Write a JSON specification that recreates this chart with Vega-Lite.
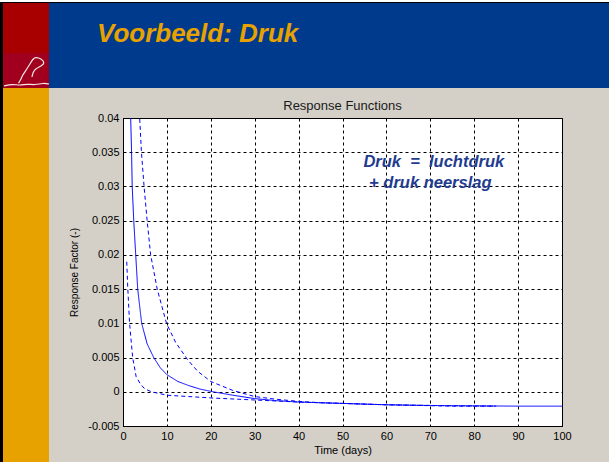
{
  "$schema": "https://vega.github.io/schema/vega-lite/v6.json",
  "width": 439,
  "height": 308,
  "autosize": {"type": "none"},
  "padding": {"left": 123, "top": 118, "right": 47, "bottom": 36},
  "background": "#D4D0C8",
  "config": {
    "view": {"fill": "white", "stroke": "black", "strokeWidth": 1},
    "font": "Liberation Sans",
    "axis": {
      "grid": true,
      "gridColor": "black",
      "gridOpacity": 1,
      "gridDash": [3, 3],
      "gridWidth": 1,
      "domainColor": "black",
      "ticks": false,
      "labelColor": "black",
      "labelFontSize": 11,
      "labelFont": "Liberation Sans",
      "titleFont": "Liberation Sans",
      "titleFontSize": 11,
      "titleFontWeight": "normal",
      "titleColor": "black",
      "labelFlush": false,
      "labelOverlap": false
    }
  },
  "datasets": {
    "slide": [
      {"part": "topwhite", "x0": -29, "x1": 112, "y0": 0.06, "y1": 0.05695},
      {"part": "border", "x0": -29, "x1": 112, "y0": 0.05695, "y1": 0.0568},
      {"part": "border", "x0": -29, "x1": -27.335, "y0": 0.05695, "y1": -0.011},
      {"part": "logotop", "x0": -27.335, "x1": -16.856, "y0": 0.0568, "y1": 0.0495},
      {"part": "logobottom", "x0": -27.335, "x1": -16.856, "y0": 0.0495, "y1": 0.04438},
      {"part": "strip", "x0": -27.335, "x1": -16.856, "y0": 0.04438, "y1": -0.011},
      {"part": "header", "x0": -16.856, "x1": 112, "y0": 0.0568, "y1": 0.04438}
    ],
    "logo": [
      {"shape": "beaver", "i": 0, "t": -23.8, "v": 0.04511},
      {"shape": "beaver", "i": 1, "t": -23.3, "v": 0.04555},
      {"shape": "beaver", "i": 2, "t": -23.01, "v": 0.04614},
      {"shape": "beaver", "i": 3, "t": -22.32, "v": 0.04676},
      {"shape": "beaver", "i": 4, "t": -21.34, "v": 0.04774},
      {"shape": "beaver", "i": 5, "t": -20.43, "v": 0.04872},
      {"shape": "beaver", "i": 6, "t": -19.82, "v": 0.04887},
      {"shape": "beaver", "i": 7, "t": -18.68, "v": 0.04869},
      {"shape": "beaver", "i": 8, "t": -17.77, "v": 0.04808},
      {"shape": "beaver", "i": 9, "t": -18.52, "v": 0.0476},
      {"shape": "beaver", "i": 10, "t": -19.82, "v": 0.04726},
      {"shape": "beaver", "i": 11, "t": -20.5, "v": 0.04672},
      {"shape": "beaver", "i": 12, "t": -20.73, "v": 0.04599},
      {"shape": "wave", "i": 0, "t": -27.11, "v": 0.04468},
      {"shape": "wave", "i": 1, "t": -25.28, "v": 0.04497},
      {"shape": "wave", "i": 2, "t": -23.46, "v": 0.04475},
      {"shape": "wave", "i": 3, "t": -21.87, "v": 0.04497},
      {"shape": "wave", "i": 4, "t": -20.05, "v": 0.04482},
      {"shape": "wave", "i": 5, "t": -18.22, "v": 0.04511},
      {"shape": "wave", "i": 6, "t": -16.86, "v": 0.04497}
    ],
    "curves": [
      {"series": "response", "t": 1.65, "v": 0.046},
      {"series": "response", "t": 1.75, "v": 0.04},
      {"series": "response", "t": 1.95, "v": 0.035},
      {"series": "response", "t": 2.1, "v": 0.03},
      {"series": "response", "t": 2.45, "v": 0.025},
      {"series": "response", "t": 2.9, "v": 0.02},
      {"series": "response", "t": 3.35, "v": 0.015},
      {"series": "response", "t": 4.25, "v": 0.01},
      {"series": "response", "t": 5.5, "v": 0.007},
      {"series": "response", "t": 7, "v": 0.005},
      {"series": "response", "t": 8.5, "v": 0.0035},
      {"series": "response", "t": 10, "v": 0.0025},
      {"series": "response", "t": 12.5, "v": 0.0015},
      {"series": "response", "t": 15, "v": 0.0009},
      {"series": "response", "t": 17.5, "v": 0.0004},
      {"series": "response", "t": 20.5, "v": 0},
      {"series": "response", "t": 25, "v": -0.0005},
      {"series": "response", "t": 30, "v": -0.001},
      {"series": "response", "t": 35, "v": -0.0013},
      {"series": "response", "t": 40, "v": -0.0015},
      {"series": "response", "t": 45, "v": -0.0016},
      {"series": "response", "t": 50, "v": -0.0017},
      {"series": "response", "t": 60, "v": -0.0019},
      {"series": "response", "t": 70, "v": -0.002},
      {"series": "response", "t": 80, "v": -0.00205},
      {"series": "response", "t": 90, "v": -0.0021},
      {"series": "response", "t": 100, "v": -0.0021},
      {"series": "upper", "t": 3.4, "v": 0.046},
      {"series": "upper", "t": 3.8, "v": 0.04},
      {"series": "upper", "t": 4.2, "v": 0.035},
      {"series": "upper", "t": 4.8, "v": 0.03},
      {"series": "upper", "t": 5.5, "v": 0.025},
      {"series": "upper", "t": 6.3, "v": 0.02},
      {"series": "upper", "t": 7.8, "v": 0.015},
      {"series": "upper", "t": 9.9, "v": 0.01},
      {"series": "upper", "t": 12, "v": 0.0072},
      {"series": "upper", "t": 14.7, "v": 0.0047},
      {"series": "upper", "t": 17, "v": 0.003},
      {"series": "upper", "t": 20, "v": 0.0015},
      {"series": "upper", "t": 25, "v": 0.0002},
      {"series": "upper", "t": 30, "v": -0.0007},
      {"series": "upper", "t": 35, "v": -0.0011},
      {"series": "upper", "t": 40, "v": -0.0014},
      {"series": "upper", "t": 45, "v": -0.0016},
      {"series": "upper", "t": 50, "v": -0.0017},
      {"series": "upper", "t": 60, "v": -0.0019},
      {"series": "upper", "t": 75, "v": -0.0021},
      {"series": "upper", "t": 85, "v": -0.0021},
      {"series": "lower", "t": 0.85, "v": 0.019},
      {"series": "lower", "t": 1.1, "v": 0.015},
      {"series": "lower", "t": 1.5, "v": 0.01},
      {"series": "lower", "t": 2.2, "v": 0.005},
      {"series": "lower", "t": 3, "v": 0.0022},
      {"series": "lower", "t": 4, "v": 0.0011},
      {"series": "lower", "t": 5, "v": 0.0004},
      {"series": "lower", "t": 6.5, "v": 0},
      {"series": "lower", "t": 10, "v": -0.0005},
      {"series": "lower", "t": 15, "v": -0.0007},
      {"series": "lower", "t": 20, "v": -0.0009},
      {"series": "lower", "t": 30, "v": -0.0012},
      {"series": "lower", "t": 40, "v": -0.0015},
      {"series": "lower", "t": 50, "v": -0.0017},
      {"series": "lower", "t": 60, "v": -0.0019},
      {"series": "lower", "t": 75, "v": -0.00205},
      {"series": "lower", "t": 85, "v": -0.0021}
    ],
    "notes": [
      {"t": 70.8, "v": 0.0336, "label": "Druk\u00a0\u00a0=\u00a0\u00a0luchtdruk"},
      {"t": 70, "v": 0.0305, "label": "+ druk neerslag"}
    ],
    "heading": [
      {"t": -5.92, "v": 0.0511, "label": "Voorbeeld: Druk"}
    ],
    "charttitle": [
      {"t": 50, "v": 0.04117, "label": "Response Functions"}
    ]
  },
  "layer": [
    {
      "data": {"name": "slide"},
      "mark": {"type": "rect", "clip": false},
      "encoding": {
        "x": {"field": "x0", "type": "quantitative", "scale": {"domain": [0, 100], "nice": false, "zero": false}, "axis": {"values": [0, 10, 20, 30, 40, 50, 60, 70, 80, 90, 100], "tickCount": 30, "title": "Time (days)", "labelPadding": 4, "titlePadding": 3}},
        "x2": {"field": "x1"},
        "y": {"field": "y0", "type": "quantitative", "scale": {"domain": [-0.005, 0.04], "nice": false, "zero": false}, "axis": {"values": [-0.005, 0, 0.005, 0.01, 0.015, 0.02, 0.025, 0.03, 0.035, 0.04], "tickCount": 30, "labelExpr": "datum.value < 0 ? '-' + format(-datum.value, '~g') : format(datum.value, '~g')", "title": "Response Factor (-)", "labelPadding": 4, "titlePadding": 8, "titleFontSize": 10}},
        "y2": {"field": "y1"},
        "color": {
          "field": "part",
          "type": "nominal",
          "scale": {
            "domain": ["topwhite", "border", "logotop", "logobottom", "strip", "header"],
            "range": ["#FFFFFF", "#000000", "#A80000", "#A0001E", "#E8A200", "#003A8C"]
          },
          "legend": null
        }
      }
    },
    {
      "data": {"name": "logo"},
      "mark": {"type": "line", "clip": false, "strokeWidth": 1.2, "color": "#F4E8E8", "interpolate": "basis"},
      "encoding": {
        "x": {"field": "t", "type": "quantitative"},
        "y": {"field": "v", "type": "quantitative"},
        "detail": {"field": "shape", "type": "nominal"},
        "order": {"field": "i", "type": "quantitative"}
      }
    },
    {
      "data": {"name": "curves"},
      "mark": {"type": "line", "clip": true, "strokeWidth": 1, "color": "#0000FF"},
      "encoding": {
        "x": {"field": "t", "type": "quantitative"},
        "y": {"field": "v", "type": "quantitative"},
        "detail": {"field": "series", "type": "nominal"},
        "strokeDash": {
          "field": "series",
          "type": "nominal",
          "scale": {"domain": ["response", "lower", "upper"], "range": [[1, 0], [4, 3], [4, 3]]},
          "legend": null
        }
      }
    },
    {
      "data": {"name": "notes"},
      "mark": {"type": "text", "font": "Liberation Sans", "fontSize": 16.5, "fontWeight": "bold", "fontStyle": "italic", "color": "#1F3C8F", "align": "center", "baseline": "middle"},
      "encoding": {
        "x": {"field": "t", "type": "quantitative"},
        "y": {"field": "v", "type": "quantitative"},
        "text": {"field": "label"}
      }
    },
    {
      "data": {"name": "charttitle"},
      "mark": {"type": "text", "font": "Liberation Sans", "fontSize": 13, "color": "#1a1a1a", "align": "center", "baseline": "alphabetic", "clip": false},
      "encoding": {
        "x": {"field": "t", "type": "quantitative"},
        "y": {"field": "v", "type": "quantitative"},
        "text": {"field": "label"}
      }
    },
    {
      "data": {"name": "heading"},
      "mark": {"type": "text", "font": "Liberation Sans", "fontSize": 26, "fontWeight": "bold", "fontStyle": "italic", "color": "#E8A200", "align": "left", "baseline": "alphabetic", "clip": false},
      "encoding": {
        "x": {"field": "t", "type": "quantitative"},
        "y": {"field": "v", "type": "quantitative"},
        "text": {"field": "label"}
      }
    }
  ]
}
